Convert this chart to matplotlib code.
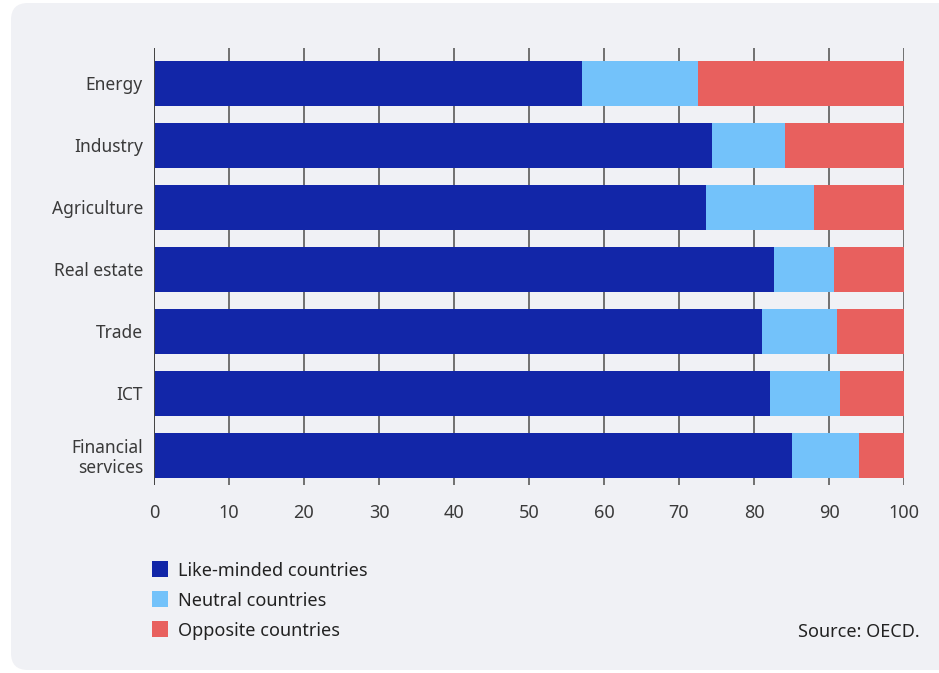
import matplotlib
matplotlib.use('Agg')
from matplotlib import pyplot as plt
from matplotlib.patches import FancyBboxPatch, Rectangle
import numpy as np

# data (share of each sector, %)
sectors = ['Energy', 'Industry', 'Agriculture', 'Real estate', 'Trade', 'ICT', 'Financial\nservices']
like_minded = [57.1, 74.4, 73.6, 82.7, 81.1, 82.1, 85.1]
neutral = [15.4, 9.7, 14.4, 8.0, 10.0, 9.4, 8.9]
opposite = [27.5, 15.9, 12.0, 9.3, 8.9, 8.5, 6.0]
series_names = ['Like-minded countries', 'Neutral countries', 'Opposite countries']
COLORS = ['#1226a8', '#73c2fa', '#e8605e']
BG = '#f0f1f5'
TXT = '#3a3a3a'

plt.rcParams['font.family'] = ['Noto Sans', 'DejaVu Sans']

fig = plt.figure(figsize=(9.39, 6.73), dpi=100)
fig.patch.set_facecolor('white')

# rounded card behind everything
card = FancyBboxPatch((11/939, 3/673), 960/939, 667/673,
                      boxstyle='round,pad=0,rounding_size=0.018',
                      transform=fig.transFigure, facecolor=BG, edgecolor='none',
                      mutation_aspect=939/673, zorder=-10)
fig.patches.append(card)

ax = fig.add_axes([154/939, 1-485/673, 750/939, 437/673])
ax.set_facecolor('none')

y = np.arange(len(sectors))
h = 0.72
left = np.zeros(len(sectors))
for vals, c in zip([like_minded, neutral, opposite], COLORS):
	ax.barh(y, vals, left=left, height=h, color=c, zorder=3)
	left += np.array(vals)

ax.set_xlim(0, 100)
ax.set_ylim(6.48, -0.57)
ax.set_xticks(range(0, 101, 10))
ax.set_yticks(y)
ax.set_yticklabels(sectors, fontsize=12.5, color=TXT, linespacing=1.1)
ax.tick_params(axis='x', length=0, pad=14, labelsize=13, labelcolor=TXT)
ax.tick_params(axis='y', length=0, pad=8)
ax.xaxis.grid(True, color='#5a5a5a', linewidth=1.2, zorder=1)
for s in ax.spines.values():
	s.set_visible(False)
ax.axvline(0, color='#444444', linewidth=1.4, zorder=4)

# legend drawn by hand at the bottom left
for i, (name, c) in enumerate(zip(series_names, COLORS)):
	yy = 1 - (569 + 30*i)/673
	fig.patches.append(Rectangle((152/939, yy - 8/673), 16/939, 16/673,
	                             transform=fig.transFigure, facecolor=c, edgecolor='none'))
	fig.text(178/939, yy - 2/673, name, fontsize=13, color='#222222', va='center', ha='left')

fig.text(920/939, 1-632/673, 'Source: OECD.', fontsize=13, color='#222222', va='center', ha='right')

plt.savefig('out.png', dpi=100, facecolor=fig.get_facecolor())
